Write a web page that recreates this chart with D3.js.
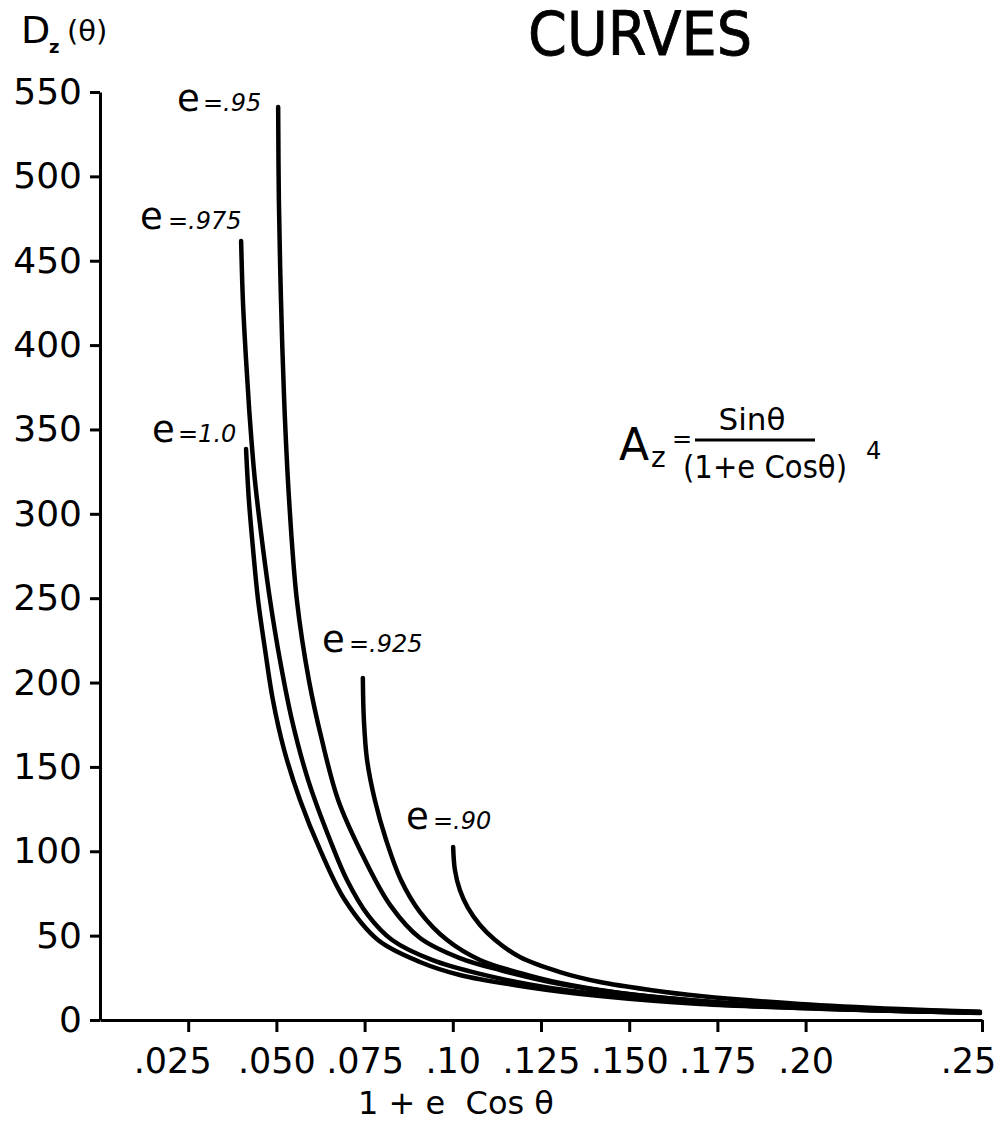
<!DOCTYPE html>
<html>
<head>
<meta charset="utf-8">
<script src="https://cdn.jsdelivr.net/npm/d3@7/dist/d3.min.js"></script>
<style>
  html, body { margin: 0; padding: 0; background: #fff; }
  svg { display: block; }
  text { font-family: "DejaVu Sans", sans-serif; fill: #000; }
</style>
</head>
<body>
<svg id="chart" width="1001" height="1123"></svg>
<script>
// ---------- data ----------
const xTickValues = [0.025, 0.050, 0.075, 0.10, 0.125, 0.150, 0.175, 0.20, 0.25];
const xTickLabels = [".025", ".050", ".075", ".10", ".125", ".150", ".175", ".20", ".25"];
const yTickValues = [0, 50, 100, 150, 200, 250, 300, 350, 400, 450, 500, 550];

const seriesNames = ["e=1.0", "e=.975", "e=.95", "e=.925", "e=.90"];
const labelValues = ["=1.0", "=.975", "=.95", "=.925", "=.90"];

// x = 1 + e cos(theta), y = D_z(theta)
const curve_e100 = [
  [0.0414,338.4],[0.0422,308.2],[0.0434,278.6],[0.0448,248.9],[0.0468,219.3],
  [0.0490,189.7],[0.0522,160.0],[0.0567,130.4],[0.0624,100.8],[0.0694,71.1],
  [0.0788,47.4],[0.0907,34.4],[0.1020,26.7],[0.1210,19.6],[0.1417,14.2],
  [0.1701,9.5],[0.1984,7.1],[0.2268,5.3],[0.2494,4.1]
];
const curve_e0975 = [
  [0.0400,461.7],[0.0405,426.7],[0.0414,391.2],[0.0425,355.6],[0.0439,320.0],
  [0.0459,284.5],[0.0482,248.9],[0.0510,213.4],[0.0544,177.8],[0.0590,142.2],
  [0.0652,106.7],[0.0700,83.0],[0.0760,62.0],[0.0828,47.4],[0.0941,35.6],[0.1077,27.3],
  [0.1276,19.0],[0.1474,14.2],[0.1701,10.1],[0.1984,7.1],[0.2268,5.3],[0.2494,4.4]
];
const curve_e095 = [
  [0.0505,541.1],[0.0507,486.0],[0.0513,426.7],[0.0522,367.5],[0.0536,308.2],
  [0.0558,248.9],[0.0592,201.5],[0.0629,165.9],[0.0675,130.4],[0.0737,100.8],
  [0.0822,68.2],[0.0907,48.6],[0.1020,36.7],[0.1134,29.6],[0.1304,21.3],
  [0.1474,16.0],[0.1701,11.3],[0.1984,7.7],[0.2268,5.3],[0.2494,4.4]
];
const curve_e0925 = [
  [0.0745,202.7],[0.0748,177.8],[0.0757,154.1],[0.0779,130.4],[0.0811,106.7],
  [0.0853,83.0],[0.0907,64.0],[0.0984,47.4],[0.1077,35.6],[0.1190,27.9],
  [0.1304,21.9],[0.1474,16.0],[0.1701,11.3],[0.1984,7.7],[0.2268,5.9],[0.2494,4.7]
];
const curve_e090 = [
  [0.1001,102.5],[0.1006,88.9],[0.1020,77.0],[0.1043,66.4],[0.1077,56.3],
  [0.1120,47.4],[0.1190,37.3],[0.1304,28.4],[0.1417,22.5],[0.1559,17.8],
  [0.1701,14.2],[0.1984,9.5],[0.2268,6.5],[0.2494,4.9]
];
const allCurves = [curve_e100, curve_e0975, curve_e095, curve_e0925, curve_e090];

// ---------- layout ----------
const svg = d3.select("#chart");
const x = d3.scaleLinear().domain([0, 0.25]).range([100, 982]);
const y = d3.scaleLinear().domain([0, 550]).range([1020, 92]);

// title
svg.append("text").attr("x", 528).attr("y", 55)
  .attr("font-size", 60).attr("textLength", 224).attr("lengthAdjust", "spacingAndGlyphs")
  .attr("stroke", "#000").attr("stroke-width", 0.8)
  .text("CURVES");

// y title D_z(θ)
svg.append("text").attr("x", 21).attr("y", 43).attr("font-size", 38).text("D");
svg.append("text").attr("x", 49).attr("y", 53).attr("font-size", 18).attr("font-weight", "bold").text("z");
svg.append("text").attr("x", 67).attr("y", 41).attr("font-size", 29).text("(θ)");

// y axis
const yAxis = d3.axisLeft(y).tickValues(yTickValues).tickSize(10).tickSizeOuter(0).tickPadding(8)
  .tickFormat(d3.format("d"));
const gy = svg.append("g").attr("transform", "translate(100,0)").call(yAxis);
gy.select(".domain").attr("stroke", "#000").attr("stroke-width", 3);
gy.selectAll(".tick line").attr("stroke", "#000").attr("stroke-width", 3);
gy.selectAll(".tick text").attr("font-size", 36).attr("font-family", "DejaVu Sans").attr("fill", "#000");

// x axis
const xAxis = d3.axisBottom(x).tickValues(xTickValues).tickSize(12).tickSizeOuter(0).tickPadding(16)
  .tickFormat((d, i) => xTickLabels[i]);
const gx = svg.append("g").attr("transform", "translate(0,1020)").call(xAxis);
gx.select(".domain").attr("stroke", "#000").attr("stroke-width", 3);
gx.selectAll(".tick line").attr("stroke", "#000").attr("stroke-width", 3);
gx.selectAll(".tick text").attr("font-size", 35).attr("font-family", "DejaVu Sans").attr("fill", "#000")
  .attr("dx", (d, i) => i === 0 ? -16 : (i === xTickLabels.length - 1 ? -14 : 0));

// x title
svg.append("text").attr("x", 456).attr("y", 1114).attr("text-anchor", "middle")
  .attr("font-size", 32).attr("xml:space", "preserve").text("1 + e  Cos θ");

// curves
const line = d3.line().x(d => x(d[0])).y(d => y(d[1])).curve(d3.curveCatmullRom.alpha(0.5));
svg.append("g").selectAll("path").data(allCurves).join("path")
  .attr("d", line).attr("fill", "none").attr("stroke", "#000")
  .attr("stroke-width", 4.5).attr("stroke-linecap", "round");

// curve labels
const labelPos = [
  {ex: 152, ey: 442, tx: 178},
  {ex: 140, ey: 229, tx: 168},
  {ex: 177, ey: 111, tx: 203},
  {ex: 322, ey: 652, tx: 349},
  {ex: 406, ey: 829, tx: 433}
];
labelPos.forEach((p, i) => {
  svg.append("text").attr("x", p.ex).attr("y", p.ey).attr("font-size", 37).text("e");
  svg.append("text").attr("x", p.tx).attr("y", p.ey).attr("font-size", 24)
    .attr("font-style", "italic").text(labelValues[i]);
});

// formula A_z = Sinθ / (1+e Cosθ)^4
svg.append("text").attr("x", 619).attr("y", 460).attr("font-size", 44).text("A");
svg.append("text").attr("x", 651).attr("y", 467).attr("font-size", 28).text("z");
svg.append("text").attr("x", 672).attr("y", 447).attr("font-size", 24).text("=");
svg.append("text").attr("x", 752).attr("y", 430).attr("text-anchor", "middle").attr("font-size", 31).text("Sinθ");
svg.append("line").attr("x1", 695).attr("x2", 815).attr("y1", 440).attr("y2", 440)
  .attr("stroke", "#000").attr("stroke-width", 3);
svg.append("text").attr("x", 765).attr("y", 478).attr("text-anchor", "middle").attr("font-size", 32)
  .attr("textLength", 164).attr("lengthAdjust", "spacingAndGlyphs").text("(1+e Cosθ)");
svg.append("text").attr("x", 866).attr("y", 459).attr("font-size", 24).text("4");
</script>
</body>
</html>
